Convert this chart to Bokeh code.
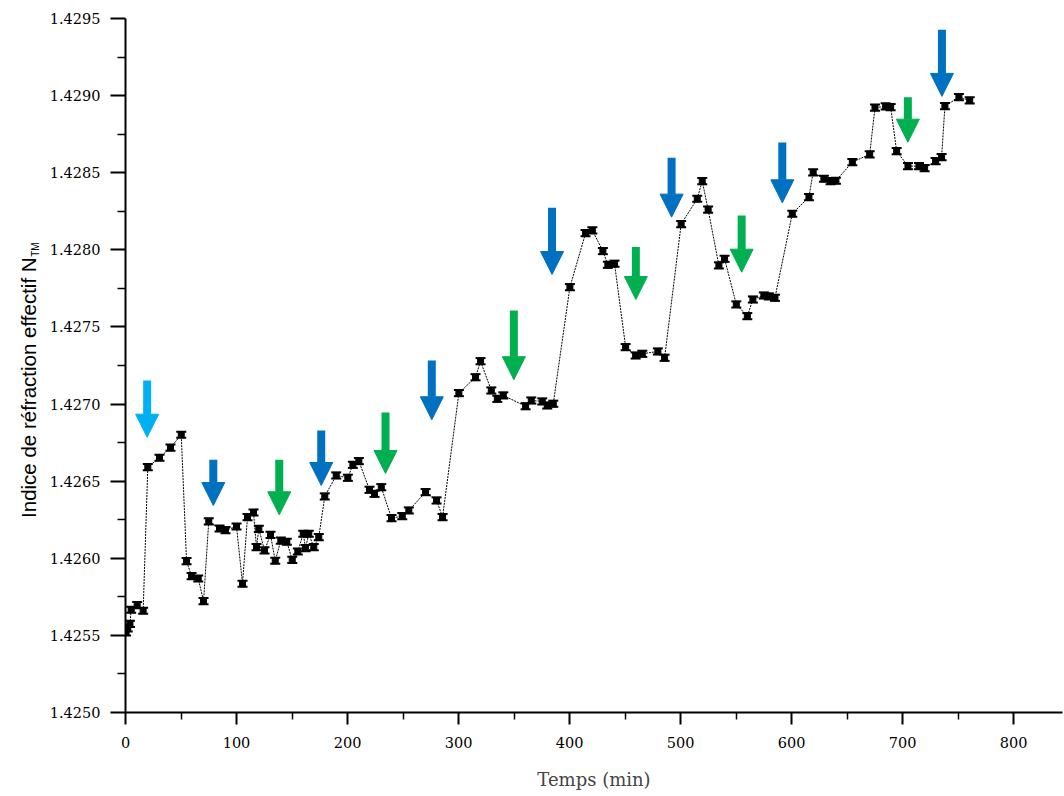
from bokeh.plotting import figure
from bokeh.layouts import row
from bokeh.models import (Range1d, FixedTicker, PrintfTickFormatter, Arrow, NormalHead,
                          Label, ColumnDataSource, Whisker, TeeHead)
from bokeh.embed import file_html
from bokeh.resources import INLINE

# ---------------- data ----------------
time_min = [0.5, 2.0, 4.0, 5.1, 10.5, 15.9, 20.1, 30.6, 40.5, 50.2,
            55.0, 59.5, 65.5, 70.3, 75.0, 84.7, 90.1, 100.0, 105.4, 109.9,
            115.3, 118.0, 120.1, 125.2, 130.6, 134.9, 139.9, 145.3, 150.2, 155.2,
            160.1, 162.2, 165.1, 169.6, 174.1, 179.5, 189.8, 200.3, 204.8, 210.2,
            219.8, 224.3, 230.4, 239.6, 249.3, 255.2, 270.3, 280.2, 285.6, 300.3,
            315.3, 319.8, 329.5, 334.9, 340.3, 360.4, 365.5, 375.4, 379.9, 385.3,
            400.3, 414.4, 420.5, 430.0, 434.5, 440.5, 450.5, 459.5, 465.5, 479.5,
            485.6, 500.5, 515.0, 519.5, 524.8, 534.5, 539.6, 550.2, 560.1, 565.1,
            575.0, 579.5, 585.0, 600.6, 615.6, 619.4, 629.1, 635.1, 639.9, 654.7,
            670.3, 675.1, 684.7, 689.2, 694.6, 704.8, 714.7, 719.8, 729.7, 735.1,
            738.1, 750.7, 760.4]
n_tm = [1.425520, 1.425545, 1.425575, 1.425666, 1.425696, 1.425660, 1.426591, 1.426652, 1.426717, 1.426801,
        1.425981, 1.425884, 1.425869, 1.425722, 1.426239, 1.426193, 1.426182, 1.426206, 1.425835, 1.426267,
        1.426297, 1.426072, 1.426191, 1.426051, 1.426152, 1.425984, 1.426115, 1.426107, 1.425990, 1.426044,
        1.426159, 1.426066, 1.426159, 1.426072, 1.426137, 1.426401, 1.426537, 1.426522, 1.426606, 1.426630,
        1.426444, 1.426418, 1.426461, 1.426260, 1.426273, 1.426310, 1.426429, 1.426375, 1.426267, 1.427071,
        1.427174, 1.427278, 1.427088, 1.427034, 1.427056, 1.426986, 1.427023, 1.427017, 1.426991, 1.427002,
        1.427758, 1.428108, 1.428126, 1.427992, 1.427903, 1.427910, 1.427369, 1.427315, 1.427326, 1.427341,
        1.427300, 1.428167, 1.428331, 1.428446, 1.428261, 1.427899, 1.427942, 1.427646, 1.427570, 1.427678,
        1.427704, 1.427698, 1.427689, 1.428234, 1.428342, 1.428502, 1.428461, 1.428445, 1.428448, 1.428569,
        1.428619, 1.428922, 1.428930, 1.428925, 1.428640, 1.428543, 1.428543, 1.428530, 1.428575, 1.428601,
        1.428932, 1.428990, 1.428969]
n_err = 0.00002

x_ticks = [0, 100, 200, 300, 400, 500, 600, 700, 800]
x_minor = [50, 150, 250, 350, 450, 550, 650, 750]
y_ticks = [1.4250, 1.4255, 1.4260, 1.4265, 1.4270, 1.4275, 1.4280, 1.4285, 1.4290, 1.4295]
y_minor = [1.42525, 1.42575, 1.42625, 1.42675, 1.42725, 1.42775, 1.42825, 1.42875, 1.42925]

# arrows (annotations): time, top of shaft, tip, kind
arrow_time = [19.5, 79.1, 138.5, 176.3, 234.2, 275.9, 349.8, 384.2, 459.7, 491.9, 555.0, 591.6, 704.7, 735.4]
arrow_top = [1.427153, 1.426639, 1.426639, 1.426829, 1.426946, 1.427283, 1.427607, 1.428273, 1.428018,
             1.428597, 1.428223, 1.428696, 1.428990, 1.429427]
arrow_tip = [1.426785, 1.426342, 1.426282, 1.426472, 1.426550, 1.426898, 1.427158, 1.427840, 1.427678,
             1.428212, 1.427855, 1.428305, 1.428698, 1.428995]
arrow_kind = ["light", "blue", "green", "blue", "green", "blue", "green", "blue", "green",
              "blue", "green", "blue", "green", "blue"]
kind_color = {"light": "#00B0F0", "blue": "#0070C0", "green": "#00B050"}

Y_RANGE = (1.4250, 1.4295)
TOTAL_H = 794
TOP, BOTTOM = 18, 82
LABEL_W = 40

# ---------------- main figure ----------------
p = figure(width=1063 - LABEL_W, height=TOTAL_H,
           x_range=Range1d(0, 844), y_range=Range1d(*Y_RANGE),
           output_backend="svg", toolbar_location=None,
           min_border_left=125 - LABEL_W, min_border_right=1,
           min_border_top=TOP, min_border_bottom=BOTTOM)
p.outline_line_color = None
p.xgrid.visible = False
p.ygrid.visible = False

src = ColumnDataSource(dict(t=time_min, n=n_tm,
                            lo=[v - n_err for v in n_tm], hi=[v + n_err for v in n_tm]))
p.line("t", "n", source=src, line_color="black", line_width=1, line_dash="2 1")
p.add_layout(Whisker(base="t", lower="lo", upper="hi", source=src, dimension="height",
                     line_color="black", line_width=2,
                     upper_head=TeeHead(size=10, line_color="black", line_width=2),
                     lower_head=TeeHead(size=10, line_color="black", line_width=2)))
p.scatter("t", "n", source=src, marker="square", size=6, fill_color="black", line_color="black")

for t, top, tip, k in zip(arrow_time, arrow_top, arrow_tip, arrow_kind):
    c = kind_color[k]
    p.add_layout(Arrow(end=NormalHead(size=23, fill_color=c, line_color=c, line_width=1),
                       x_start=t, y_start=top, x_end=t, y_end=tip,
                       line_color=c, line_width=8))

xa = p.xaxis[0]
ya = p.yaxis[0]
xa.ticker = FixedTicker(ticks=x_ticks, minor_ticks=x_minor)
ya.ticker = FixedTicker(ticks=y_ticks, minor_ticks=y_minor)
ya.formatter = PrintfTickFormatter(format="%.4f")
for ax in (xa, ya):
    ax.axis_line_width = 2
    ax.axis_line_color = "black"
    ax.major_tick_line_width = 2
    ax.major_tick_in = 0
    ax.minor_tick_line_width = 1.5
    ax.minor_tick_in = 0
    ax.major_label_text_color = "black"
    ax.major_label_text_font = "DejaVu Serif"
    ax.major_label_text_font_size = "14.5px"

xa.major_tick_out = 12
xa.minor_tick_out = 7
xa.major_label_standoff = 12
xa.axis_label = "Temps (min)"
xa.axis_label_text_font = "DejaVu Serif"
xa.axis_label_text_font_size = "18px"
xa.axis_label_text_font_style = "normal"
xa.axis_label_standoff = 18

ya.major_tick_out = 15
ya.minor_tick_out = 8
ya.major_label_standoff = 10

# ---------------- y-axis title panel (with subscript) ----------------
lab = figure(width=LABEL_W, height=TOTAL_H, x_range=Range1d(0, LABEL_W), y_range=Range1d(*Y_RANGE),
             x_axis_type=None, y_axis_type=None, output_backend="svg", toolbar_location=None,
             min_border_left=0, min_border_right=0, min_border_top=TOP, min_border_bottom=BOTTOM)
lab.outline_line_color = None
lab.xgrid.visible = False
lab.ygrid.visible = False
lab.add_layout(Label(x=28, y=1.427951, text="Indice de réfraction effectif N",
                     angle=1.5707963, text_align="right", text_baseline="alphabetic",
                     text_font="Liberation Sans", text_font_size="20.5px", text_color="black"))
lab.add_layout(Label(x=35, y=1.427955, text="TM",
                     angle=1.5707963, text_align="left", text_baseline="alphabetic",
                     text_font="Liberation Sans", text_font_size="10px", text_color="black"))

layout = row(lab, p, spacing=0)
open("out.html", "w").write(file_html(layout, INLINE))
